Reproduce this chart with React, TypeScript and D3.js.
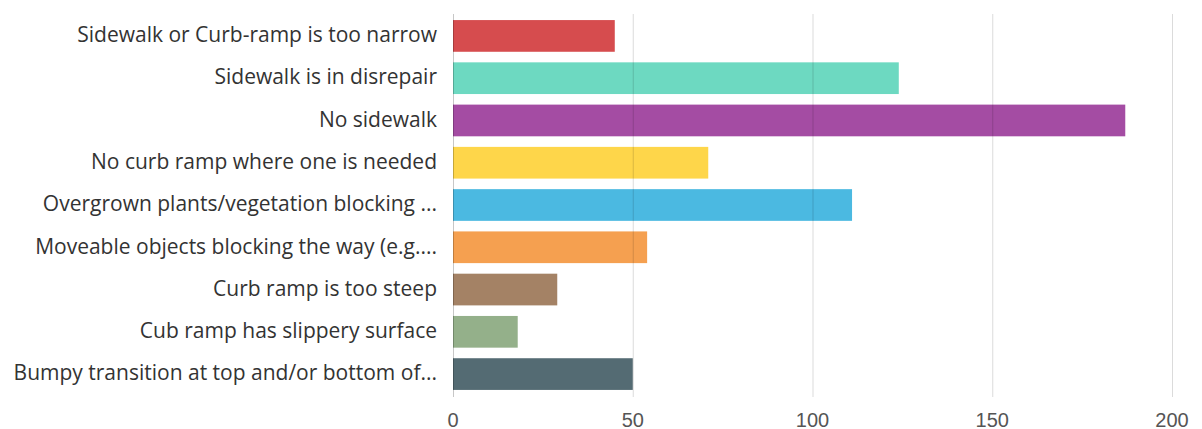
import { useEffect, useRef } from 'react';
import * as d3 from 'd3';

const categories = [
  'Sidewalk or Curb-ramp is too narrow',
  'Sidewalk is in disrepair',
  'No sidewalk',
  'No curb ramp where one is needed',
  'Overgrown plants/vegetation blocking ...',
  'Moveable objects blocking the way (e.g....',
  'Curb ramp is too steep',
  'Cub ramp has slippery surface',
  'Bumpy transition at top and/or bottom of...',
];
const counts = [45, 124, 187, 71, 111, 54, 29, 18, 50];
const barColors = [
  '#d64c4e', '#6dd9c1', '#a44ca3', '#fed64a', '#4bb9e1',
  '#f5a050', '#a48265', '#94b08a', '#546b73',
];
const xTicks = [0, 50, 100, 150, 200];

const width = 1202;
const height = 429;

export default function App() {
  const svgRef = useRef<SVGSVGElement>(null);

  useEffect(() => {
    document.body.style.margin = '0';
    if (!svgRef.current) return;
    const svg = d3.select(svgRef.current);
    svg.selectAll('*').remove();

    const x = d3.scaleLinear().domain([0, 200]).range([453, 1172]);
    const y = d3.scaleBand<string>()
      .domain(categories)
      .range([15, 395])
      .paddingInner(0.25)
      .paddingOuter(0.12);

    // bars
    svg.append('g')
      .selectAll('rect')
      .data(categories.map((c, i) => ({ c, v: counts[i], color: barColors[i] })))
      .enter()
      .append('rect')
      .attr('x', x(0))
      .attr('y', d => y(d.c) || 0)
      .attr('width', d => x(d.v) - x(0))
      .attr('height', y.bandwidth())
      .attr('fill', d => d.color);

    // gridlines (drawn on top, translucent so they show through the bars)
    svg.append('g')
      .selectAll('line')
      .data(xTicks)
      .enter()
      .append('line')
      .attr('x1', d => x(d) + 0.5)
      .attr('x2', d => x(d) + 0.5)
      .attr('y1', 14)
      .attr('y2', 397)
      .attr('stroke', d => (d === 0 ? 'rgba(0,0,0,0.22)' : 'rgba(0,0,0,0.14)'))
      .attr('stroke-width', 1);

    // category labels
    svg.append('g')
      .selectAll('text')
      .data(categories)
      .enter()
      .append('text')
      .attr('x', 437)
      .attr('y', d => (y(d) || 0) + y.bandwidth() / 2)
      .attr('dy', '0.3em')
      .attr('text-anchor', 'end')
      .attr('font-family', '"Open Sans", sans-serif')
      .attr('font-size', '21px')
      .attr('fill', '#333333')
      .text(d => d);

    // tick labels
    svg.append('g')
      .selectAll('text')
      .data(xTicks)
      .enter()
      .append('text')
      .attr('x', d => x(d))
      .attr('y', 427)
      .attr('text-anchor', 'middle')
      .attr('font-family', '"Liberation Sans", Arial, sans-serif')
      .attr('font-size', '20px')
      .attr('fill', '#555555')
      .text(d => d);
  }, []);

  return <svg ref={svgRef} width={width} height={height} style={{ display: 'block' }} />;
}
